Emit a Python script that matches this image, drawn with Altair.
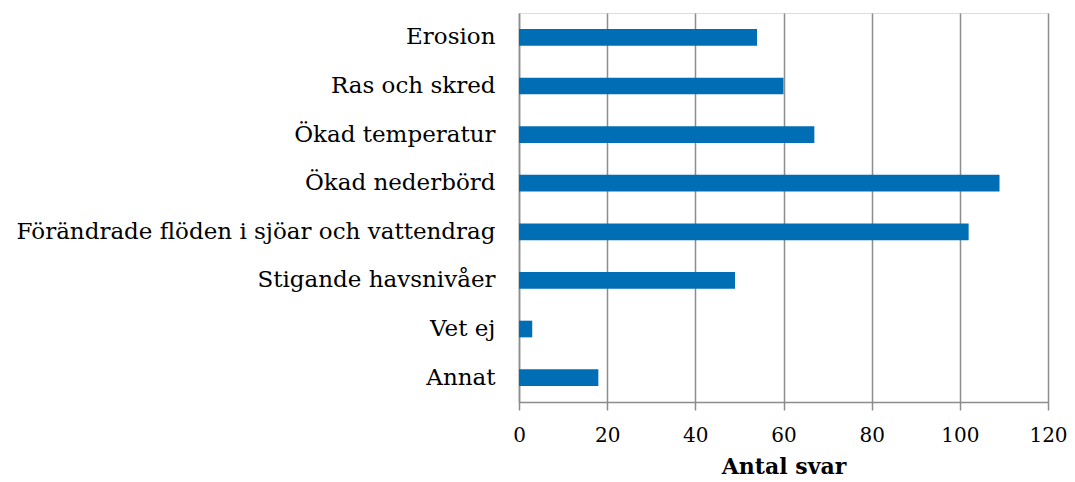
import altair as alt
import pandas as pd

categories = [
    "Erosion",
    "Ras och skred",
    "Ökad temperatur",
    "Ökad nederbörd\u00a0",
    "Förändrade flöden i sjöar och vattendrag\u00a0",
    "Stigande havsnivåer",
    "Vet ej",
    "Annat",
]
values = [54, 60, 67, 109, 102, 49, 3, 18]
x_ticks = [0, 20, 40, 60, 80, 100, 120]

df = pd.DataFrame({"kategori": categories, "antal": values})

FONT = "DejaVu Serif"
GRID = "#8c8c8c"

chart = (
    alt.Chart(df)
    .mark_bar(color="#006eb4")
    .encode(
        x=alt.X(
            "antal:Q",
            title="Antal svar",
            scale=alt.Scale(domain=[0, 120], nice=False),
            axis=alt.Axis(
                values=x_ticks,
                grid=True,
                gridColor=GRID,
                gridWidth=1.5,
                domainColor=GRID,
                domainWidth=1.5,
                tickColor=GRID,
                tickWidth=1.5,
                tickSize=8,
                labelFont=FONT,
                labelFontSize=20,
                labelColor="#000000",
                labelPadding=15,
                labelFlush=False,
                titleFont=FONT,
                titleFontSize=22,
                titleFontWeight="bold",
                titleColor="#000000",
                titlePadding=11,
            ),
        ),
        y=alt.Y(
            "kategori:N",
            sort=categories,
            title=None,
            scale=alt.Scale(paddingInner=0.657, paddingOuter=0.33),
            axis=alt.Axis(
                ticks=False,
                domainColor=GRID,
                domainWidth=1.5,
                labelFont=FONT,
                labelFontSize=23,
                labelColor="#000000",
                labelPadding=24,
                labelLimit=600,
            ),
        ),
    )
    .properties(
        width=529,
        height=389,
        autosize=alt.AutoSizeParams(type="none"),
        padding={"left": 511, "top": 5, "right": 19, "bottom": 76},
    )
    .configure_view(stroke=None)
    .configure(background="white")
)

chart.save("out.html", embed_options={"renderer": "svg", "actions": False})
